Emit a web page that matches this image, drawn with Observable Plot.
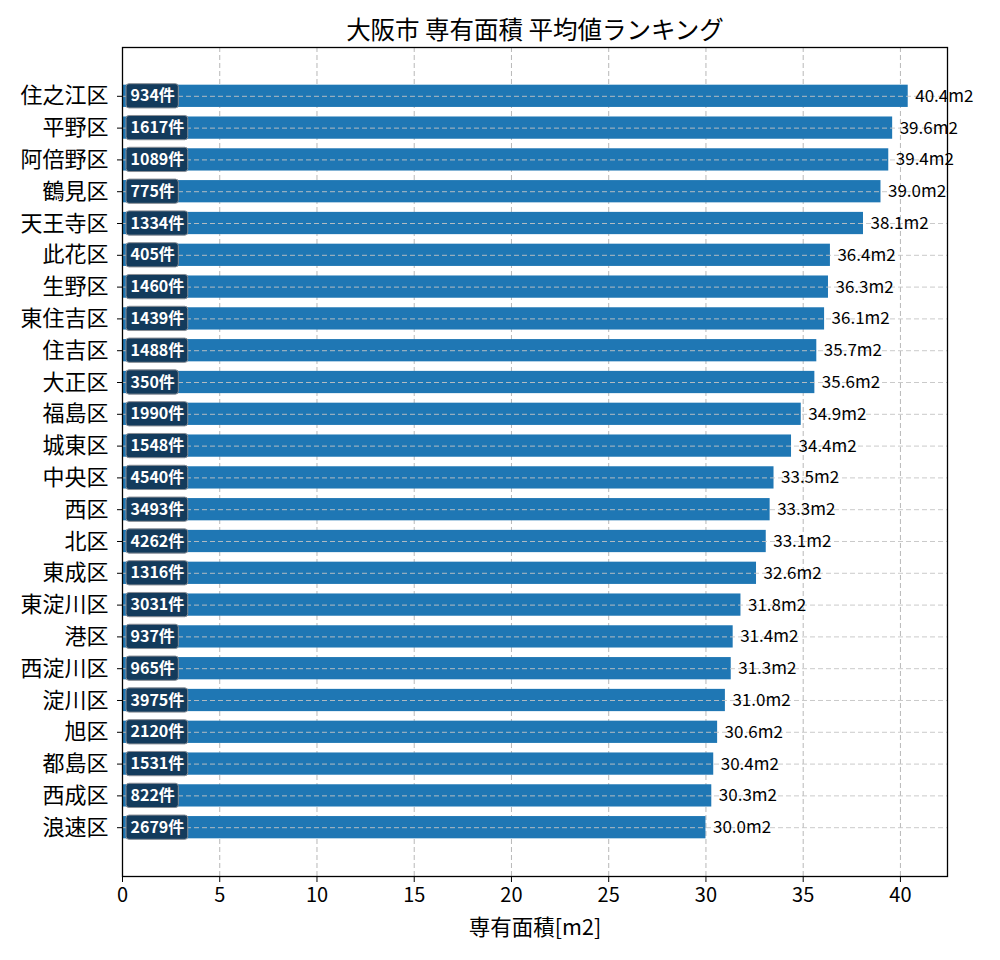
<!DOCTYPE html>
<html>
<head>
<meta charset="utf-8">
<script src="https://cdn.jsdelivr.net/npm/d3@7"></script>
<script src="https://cdn.jsdelivr.net/npm/@observablehq/plot@0.6"></script>
<style>
  body { margin: 0; background: #fff; }
  svg { font-family: "Noto Sans CJK JP", "Noto Sans", sans-serif; }
  g[aria-label^="y-axis"] text { font-size: 22px; }
  g[aria-label^="x-axis"] text { font-size: 20px; }
</style>
</head>
<body>
<div id="chart"></div>
<script>
const districts = ["住之江区","平野区","阿倍野区","鶴見区","天王寺区","此花区","生野区","東住吉区","住吉区","大正区","福島区","城東区","中央区","西区","北区","東成区","東淀川区","港区","西淀川区","淀川区","旭区","都島区","西成区","浪速区"];
const areas = [40.4,39.6,39.4,39.0,38.1,36.4,36.3,36.1,35.7,35.6,34.9,34.4,33.5,33.3,33.1,32.6,31.8,31.4,31.3,31.0,30.6,30.4,30.3,30.0];
const counts = [934,1617,1089,775,1334,405,1460,1439,1488,350,1990,1548,4540,3493,4262,1316,3031,937,965,3975,2120,1531,822,2679];
const xTicks = [0,5,10,15,20,25,30,35,40];
const title = "大阪市 専有面積 平均値ランキング";
const xLabel = "専有面積[m2]";

const W = 1000, H = 960;
const mL = 122, mR = 53, mT = 47, mB = 84;
const xMax = d3.max(areas) * 1.05;
const pxPerUnit = (W - mL - mR) / xMax;

const data = districts.map((name, i) => ({name, area: areas[i], count: counts[i], label: counts[i] + "件"}));

// measure count-label widths to size the rounded boxes
const ctx = document.createElement("canvas").getContext("2d");
ctx.font = "bold 16px 'Noto Sans CJK JP'";
const boxStart = 4 / pxPerUnit;
data.forEach(d => {
  const w = ctx.measureText(d.label).width + 8;
  d.bx1 = boxStart;
  d.bx2 = boxStart + w / pxPerUnit;
});

const chart = Plot.plot({
  width: W,
  height: H,
  marginLeft: mL,
  marginRight: mR,
  marginTop: mT,
  marginBottom: mB,
  x: {domain: [0, xMax], ticks: xTicks, tickSize: 6, tickPadding: 5, label: null},
  y: {domain: districts, paddingInner: 0.3, paddingOuter: 1.185, align: 0.5, round: false, tickSize: 5, tickPadding: 9, label: null},
  marks: [
    Plot.ruleX(xTicks.slice(1), {stroke: "#b0b0b0", strokeDasharray: "5,3", strokeWidth: 0.9}),
    Plot.barX(data, {x: "area", y: "name", fill: "#1f77b4"}),
    Plot.ruleY(districts, {stroke: "#c4c4c4", strokeDasharray: "5,3", strokeWidth: 0.9}),
    Plot.barX(data, {x1: "bx1", x2: "bx2", y: "name", insetTop: -1, insetBottom: -1, rx: 3, fill: "#133b5c", stroke: "#8a8f96", strokeWidth: 1}),
    Plot.text(data, {x: 0, y: "name", text: "label", dx: 8, textAnchor: "start", fill: "white", fontWeight: "bold", fontSize: 16}),
    Plot.text(data, {x: "area", y: "name", text: d => d.area.toFixed(1) + "m2", dx: 7, textAnchor: "start", fill: "black", fontSize: 17}),
    Plot.frame({stroke: "black", strokeWidth: 1.3}),
    Plot.text([title], {frameAnchor: "top", lineAnchor: "middle", dy: -16, fontSize: 24.5, fill: "black", text: d => d}),
    Plot.text([xLabel], {frameAnchor: "bottom", lineAnchor: "middle", dy: 52, fontSize: 21.5, fill: "black", text: d => d})
  ]
});
document.getElementById("chart").appendChild(chart);
</script>
</body>
</html>
